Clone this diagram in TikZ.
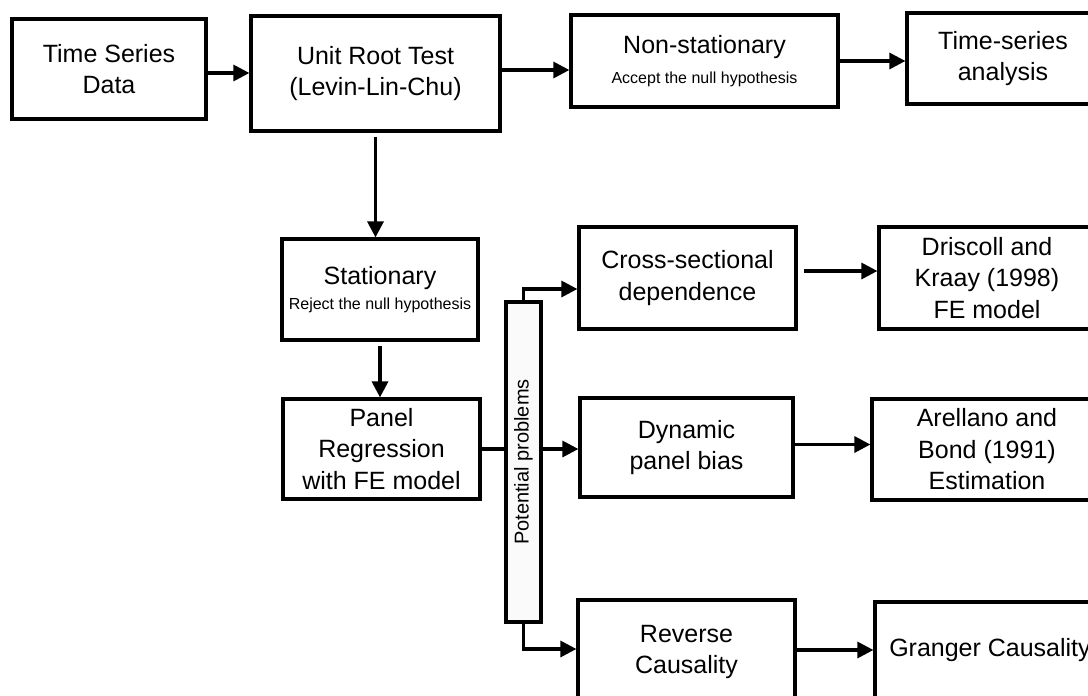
\documentclass[tikz,border=0pt]{standalone}
\usepackage{fontspec}
\setmainfont{Liberation Sans}
\usepackage{graphicx}
\usetikzlibrary{arrows.meta}

\tikzset{
  box/.style={draw, line width=1.6pt, align=center, inner sep=2pt,
    font=\fontsize{12.5}{15.75}\selectfont},
  arr/.style={line width=1.6pt, -{Triangle[length=8pt,width=8pt]}},
  lnk/.style={line width=1.6pt},
}
\newcommand{\smalltxt}{\fontsize{8}{10}\selectfont}

\begin{document}
\begin{tikzpicture}[x=0.5pt,y=-0.5pt]
	\useasboundingbox (0,0) rectangle (1088,696);
	\clip (0,0) rectangle (1088,696);
	% top row
	\node[box, minimum width=97pt, minimum height=50pt] (tsd) at (109,69) {Time Series\\Data};
	\node[box, minimum width=124.5pt, minimum height=57.5pt] (urt) at (375.5,73.5) {Unit Root Test\\(Levin-Lin-Chu)};
	\node[box, minimum width=133.5pt, minimum height=46pt] (nonstat) at (704.5,61) {Non-stationary\\[-1pt]{\smalltxt Accept the null hypothesis}};
	\node[box, minimum width=96pt, minimum height=45.5pt] (tsa) at (1003,58.5) {Time-series\\analysis};
	% left column
	\node[box, minimum width=98pt, minimum height=50.5pt] (stat) at (380,289.5) {Stationary\\[-3pt]{\smalltxt Reject the null hypothesis}};
	\node[box, minimum width=98.5pt, minimum height=50pt] (panel) at (381.5,449) {Panel\\Regression\\with FE model};
	\node[box, fill=black!2, minimum width=17.5pt, minimum height=160pt, inner sep=0pt,
	  font=\fontsize{10}{12}\selectfont] (bar) at (523.5,462) {\rotatebox{90}{Potential problems}};
	% problems
	\node[box, minimum width=108.5pt, minimum height=51pt] (cross) at (687.5,278) {Cross-sectional\\dependence};
	\node[box, minimum width=106.5pt, minimum height=49.5pt] (dyn) at (686.5,447.5) {Dynamic\\panel bias};
	\node[box, minimum width=108.5pt, minimum height=52pt] (rev) at (686.5,652) {Reverse\\Causality};
	% remedies
	\node[box, minimum width=108pt, minimum height=51pt] (dk) at (987,278) {Driscoll and\\Kraay (1998)\\FE model};
	\node[box, minimum width=115pt, minimum height=50.5pt] (ab) at (987,449.5) {Arellano and\\Bond (1991)\\Estimation};
	\node[box, minimum width=115pt, minimum height=48pt] (gc) at (990,650) {Granger Causality};

	\draw[arr] ([yshift=-2pt]tsd.east) -- ([yshift=-2pt]tsd.east -| urt.west);
	\draw[arr] ([yshift=1.75pt]urt.east) -- ([yshift=1.75pt]urt.east -| nonstat.west);
	\draw[arr] (nonstat.east) -- (nonstat.east -| tsa.west);
	\draw[arr, shorten <=2pt] (urt.south) -- (urt.south |- stat.north);
	\draw[arr, shorten <=2pt] (stat.south) -- (stat.south |- panel.north);
	\draw[lnk] (panel.east) -- (panel.east -| bar.west);
	\draw[arr] (panel.east -| bar.east) -- (panel.east -| dyn.west);
	\draw[arr] (bar.north) |- ([yshift=-5.5pt]cross.west);
	\draw[arr] (bar.south) |- ([yshift=1.5pt]rev.west);
	\draw[arr, shorten <=3pt] ([yshift=3.5pt]cross.east) -- ([yshift=3.5pt]cross.east -| dk.west);
	\draw[arr] ([yshift=1.5pt]dyn.east) -- ([yshift=1.5pt]dyn.east -| ab.west);
	\draw[arr] ([yshift=1pt]rev.east) -- ([yshift=1pt]rev.east -| gc.west);
\end{tikzpicture}
\end{document}
